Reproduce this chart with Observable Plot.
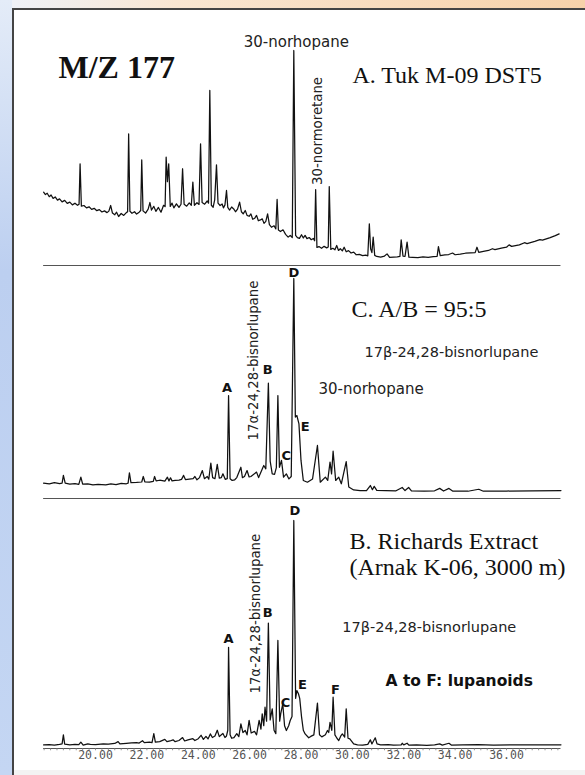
<!DOCTYPE html>
<html><head><meta charset="utf-8">
<script src="https://cdn.jsdelivr.net/npm/d3@7"></script>
<script src="https://cdn.jsdelivr.net/npm/@observablehq/plot@0.6"></script>
<style>
html,body{margin:0;padding:0;background:#fff;}
#page{position:relative;width:585px;height:775px;overflow:hidden;background:linear-gradient(to right,#eef2fa 0%,#f9e6d2 30%,#f7d2aa 100%);}
#leftstrip{position:absolute;left:0;top:0;width:12px;height:775px;background:linear-gradient(to bottom,#e4ecf8 0%,#bccff0 35%,#c4d6f3 100%);}
#panel{position:absolute;left:12px;top:8px;width:580px;height:767px;border-left:2px solid #444;border-top:2px solid #444;background:#f3f3f3;}
#inner{position:absolute;left:0;top:0;right:0;height:760px;background:#fff;}
#charts svg{position:absolute;left:0;top:0;}
</style></head>
<body><div id="page"><div id="leftstrip"></div><div id="panel"><div id="inner"></div></div><div id="charts"></div></div>
<script>
// retention time (min) and relative intensity (baseline rule = 0, tallest peak = 100)
const timesA = [17.98,18.05,18.12,18.20,18.27,18.35,18.43,18.52,18.60,18.70,18.80,18.90,19.00,19.10,19.20,19.30,19.36,19.40,19.45,19.55,19.65,19.75,19.85,19.95,20.05,20.15,20.25,20.35,20.45,20.52,20.59,20.66,20.75,20.82,20.90,21.00,21.10,21.20,21.25,21.29,21.34,21.42,21.52,21.60,21.70,21.76,21.80,21.85,21.95,22.05,22.12,22.18,22.27,22.35,22.45,22.55,22.65,22.71,22.75,22.80,22.85,22.91,22.98,23.05,23.15,23.25,23.33,23.39,23.45,23.55,23.65,23.73,23.79,23.85,23.95,24.03,24.09,24.15,24.25,24.35,24.40,24.45,24.51,24.58,24.64,24.71,24.77,24.85,24.93,24.98,25.04,25.10,25.15,25.22,25.30,25.38,25.45,25.53,25.61,25.68,25.75,25.83,25.90,25.98,26.05,26.12,26.20,26.27,26.34,26.42,26.49,26.56,26.63,26.70,26.77,26.85,26.95,27.02,27.07,27.12,27.20,27.30,27.40,27.50,27.58,27.66,27.72,27.79,27.86,27.94,28.02,28.09,28.16,28.23,28.32,28.40,28.48,28.53,28.57,28.62,28.70,28.80,28.90,29.00,29.06,29.10,29.16,29.24,29.32,29.39,29.46,29.53,29.61,29.68,29.76,29.85,29.95,30.05,30.15,30.27,30.40,30.52,30.60,30.66,30.71,30.76,30.81,30.87,30.95,31.10,31.25,31.35,31.45,31.60,31.75,31.85,31.90,31.97,32.05,32.13,32.20,32.35,32.55,32.75,32.95,33.15,33.30,33.35,33.42,33.60,33.75,33.90,34.00,34.20,34.40,34.60,34.78,34.85,34.92,35.10,35.30,35.45,35.55,35.80,36.00,36.10,36.20,36.50,36.70,36.80,37.10,37.30,37.40,37.70,37.90,38.05];
const intensA = [34.1,33.0,33.6,32.0,32.8,31.2,31.9,30.4,31.0,29.6,30.3,28.9,29.5,28.2,29.0,28.0,28.5,47.3,27.6,27.9,26.8,27.3,26.1,26.6,25.5,26.0,24.9,25.4,24.6,25.3,27.9,24.4,23.6,24.8,22.8,24.2,23.3,24.6,25.0,61.2,25.2,24.3,25.0,23.9,24.8,25.6,49.1,25.4,24.4,26.2,29.3,25.8,27.5,25.2,27.0,24.8,28.0,27.4,50.4,39.0,47.3,27.5,29.0,26.8,28.7,27.0,28.5,45.0,28.5,27.6,29.1,28.0,38.8,28.0,29.2,28.4,56.6,29.3,28.5,30.0,29.0,81.4,28.0,27.1,30.5,46.8,29.0,27.9,28.6,26.8,28.2,34.9,27.0,25.8,27.2,26.3,25.0,26.2,29.5,25.0,24.0,25.6,23.3,22.9,24.0,21.5,22.0,23.3,20.8,21.2,21.7,19.6,20.5,24.0,19.0,17.8,18.5,17.0,30.7,16.5,15.8,16.6,14.5,13.2,14.0,13.0,100,14.0,13.0,12.6,14.3,12.8,14.0,12.5,13.0,12.0,12.6,11.5,35.3,8.4,8.8,8.0,8.9,8.2,8.6,36.7,7.5,8.0,7.3,9.3,7.0,7.8,6.8,8.5,6.4,6.9,5.8,6.2,5.0,5.2,4.6,4.8,4.5,19.4,7.8,6.0,13.2,4.7,4.2,3.9,4.4,5.4,3.8,3.9,4.0,4.2,11.9,4.4,4.3,10.9,3.9,3.8,3.7,4.0,3.8,4.1,4.3,8.8,4.6,4.9,5.1,5.8,5.0,5.3,5.7,5.9,6.0,8.5,6.1,6.6,7.0,7.8,7.4,8.1,8.5,9.6,8.9,9.6,10.6,10.2,11.2,12.0,11.8,13.0,13.9,14.7];

const timesC = [17.98,18.2,18.4,18.6,18.70,18.75,18.82,19.0,19.2,19.35,19.43,19.5,19.7,19.9,20.1,20.4,20.6,20.8,21.0,21.2,21.27,21.32,21.38,21.6,21.8,21.86,21.92,22.1,22.25,22.30,22.36,22.5,22.70,22.80,22.86,22.92,22.98,23.1,23.25,23.35,23.43,23.50,23.65,23.80,23.87,23.95,24.05,24.16,24.24,24.35,24.41,24.49,24.56,24.65,24.74,24.82,24.90,24.96,25.05,25.13,25.18,25.24,25.32,25.42,25.50,25.66,25.72,25.80,25.90,25.98,26.05,26.27,26.35,26.55,26.63,26.73,26.80,26.88,26.97,27.04,27.10,27.16,27.24,27.32,27.43,27.53,27.62,27.72,27.78,27.84,27.92,28.00,28.09,28.25,28.45,28.64,28.75,28.95,29.04,29.13,29.19,29.25,29.35,29.47,29.57,29.76,29.86,30.05,30.3,30.55,30.70,30.78,30.85,30.95,31.3,31.7,31.94,32.05,32.19,32.3,32.8,33.20,33.40,33.55,33.76,33.9,34.5,34.92,35.1,36.0,37.0,38.12];
const intensC = [7.0,6.6,7.2,6.8,7.0,10.5,7.0,6.5,6.8,6.4,9.7,6.5,6.6,6.2,6.4,6.2,6.6,6.3,6.9,6.7,7.0,11.7,7.2,7.3,7.5,10.0,7.6,7.4,7.8,10.0,8.0,8.3,7.9,9.7,8.0,9.4,8.0,8.2,8.4,8.7,10.5,8.6,8.8,9.0,10.0,8.5,9.5,12.7,9.0,10.0,8.8,16.1,9.5,9.0,15.5,9.3,9.5,11.2,8.7,9.0,46.8,9.0,8.2,8.5,9.5,14.2,9.5,10.0,12.7,9.8,10.0,12.0,9.5,15.0,13.5,52.4,17.0,11.2,11.0,14.0,46.8,14.2,17.3,9.7,11.2,8.9,10.0,100,37.0,37.7,33.9,17.3,8.2,7.4,8.9,24.1,7.4,9.7,8.2,16.5,11.2,21.5,8.2,9.7,6.7,16.8,5.2,3.9,3.6,3.6,5.9,4.0,5.5,3.7,3.6,3.5,5.0,3.6,5.0,3.5,3.4,3.5,4.6,3.4,4.6,3.4,3.3,4.2,3.3,3.4,3.5,3.6];

const timesB = [17.98,18.2,18.4,18.6,18.70,18.75,18.80,19.0,19.2,19.35,19.43,19.52,19.7,19.8,20.0,20.3,20.5,20.75,20.88,20.95,21.2,21.4,21.6,21.7,21.83,21.9,22.1,22.2,22.27,22.33,22.5,22.70,22.78,22.9,23.02,23.1,23.25,23.39,23.47,23.6,23.79,23.87,24.0,24.11,24.2,24.30,24.38,24.47,24.55,24.65,24.74,24.82,24.90,24.96,25.04,25.10,25.15,25.18,25.24,25.30,25.39,25.50,25.58,25.66,25.74,25.83,25.90,25.98,26.06,26.19,26.27,26.37,26.44,26.49,26.55,26.60,26.66,26.73,26.80,26.88,26.95,27.02,27.10,27.17,27.21,27.29,27.36,27.43,27.52,27.58,27.65,27.72,27.79,27.84,27.90,27.95,28.02,28.09,28.16,28.30,28.38,28.50,28.64,28.72,28.81,28.95,29.03,29.08,29.13,29.20,29.25,29.32,29.40,29.47,29.55,29.61,29.70,29.76,29.83,29.90,30.05,30.2,30.4,30.6,30.70,30.76,30.89,30.96,31.1,31.4,31.6,31.9,31.94,32.0,32.13,32.2,32.5,32.9,33.2,33.40,33.5,33.76,33.85,34.3,34.9,35.5,36.2,37.0,38.12];
const intensB = [1.6,1.7,1.5,1.8,2.0,6.0,1.9,1.6,1.8,1.7,2.8,1.5,2.0,1.8,1.7,2.0,1.9,2.2,3.0,2.0,2.3,2.5,2.6,2.4,3.4,2.6,2.8,2.6,6.5,2.8,3.0,4.0,3.0,3.3,3.8,3.0,3.5,4.8,3.3,3.8,4.3,3.5,4.3,5.8,4.0,5.3,4.2,6.4,4.8,5.5,8.0,5.2,6.0,6.6,4.8,5.5,8.0,44.4,6.0,4.5,4.8,6.5,5.2,10.8,7.0,7.9,6.0,12.3,6.8,7.5,6.0,12.3,8.5,15.2,10.0,18.1,12.0,55.0,12.5,17.4,8.0,6.5,47.4,12.0,15.2,19.6,10.0,7.9,10.0,12.3,14.0,100,22.0,25.4,24.0,22.0,14.0,8.0,6.4,4.7,5.3,6.0,19.9,6.0,5.1,6.0,7.9,7.0,11.5,8.0,22.5,6.0,4.5,3.5,5.5,6.4,5.0,17.4,4.5,4.2,2.0,1.6,1.5,1.8,3.8,2.0,4.7,2.0,1.6,1.7,1.5,1.6,2.3,1.6,2.3,1.5,1.6,1.4,1.6,2.0,1.5,2.3,1.5,1.6,1.7,1.5,1.6,1.6,1.6];

const tickValues = [20,22,24,26,28,30,32,34,36];
const tickLabels = ["20.00","22.00","24.00","26.00","28.00","30.00","32.00","34.00","36.00"];
const traceStart = 17.98, traceEnd = 38.12;

const rows = (ts, vs) => ts.map((t, i) => ({t, v: vs[i]}));
const serif = "Liberation Serif, Times New Roman, serif";
const sans = "DejaVu Sans, Verdana, sans-serif";

function panel(yRange, marks) {
  return Plot.plot({
    width: 585, height: 775,
    marginTop: 0, marginBottom: 27, marginLeft: 0, marginRight: 0,
    x: {domain: [20, 36], range: [95, 506], axis: null},
    y: {domain: [0, 100], range: yRange, axis: null},
    style: "position:absolute;left:0;top:0;background:transparent;overflow:visible;",
    marks
  });
}
const trace = (ts, vs) => Plot.line(rows(ts, vs), {x: "t", y: "v", stroke: "#111", strokeWidth: 1.25, strokeLinejoin: "round"});
const baseRule = Plot.ruleY([0], {x1: traceStart, x2: traceEnd, stroke: "#555", strokeWidth: 1.2});
const note = (t, x, y, o = {}) => Plot.text([t], {x: () => x, y: () => y, text: d => d, lineAnchor: "bottom", textAnchor: "start", fill: "#222", fontFamily: sans, fontSize: 14.5, ...o});
const letter = (t, x, y) => note(t, x, y, {textAnchor: "middle", fontWeight: "bold", fontSize: 13, fill: "#111"});
const vnote = (t, x, y) => note(t, x, y, {rotate: -90, lineAnchor: "middle", fontSize: 13.3});

const charts = document.getElementById("charts");

// Panel A
charts.append(panel([265, 50], [
  baseRule,
  trace(timesA, intensA),
  note("M/Z 177", 18.56, 87.4, {fontFamily: serif, fontWeight: "bold", fontSize: 32, fill: "#111"}),
  note("A. Tuk M-09 DST5", 30.0, 84.7, {fontFamily: serif, fontSize: 24, fill: "#111"}),
  note("30-norhopane", 27.82, 101.4, {textAnchor: "middle", fontSize: 15}),
  vnote("30-normoretane", 28.64, 37.5)
]));

// Panel C
charts.append(panel([498, 278], [
  baseRule,
  trace(timesC, intensC),
  note("C. A/B = 95:5", 29.97, 82.7, {fontFamily: serif, fontSize: 24, fill: "#111"}),
  note("17β-24,28-bisnorlupane", 30.47, 64.1),
  note("30-norhopane", 28.68, 47.7, {fontSize: 15}),
  vnote("17α-24,28-bisnorlupane", 26.15, 26.4),
  letter("A", 25.12, 48.2),
  letter("B", 26.70, 56.8),
  letter("C", 27.43, 17.3),
  letter("D", 27.72, 100.5),
  letter("E", 28.16, 30.9)
]));

// Panel B
charts.append(panel([748, 520], [
  baseRule,
  Plot.ruleX(d3.range(18, 38.1, 0.25), {x: d => d, y1: 0, y2: -1.0, stroke: "#777", strokeWidth: 0.8}),
  Plot.text(tickValues, {x: d => d, y: -1.1, text: (d, i) => tickLabels[i], lineAnchor: "top", fontFamily: "DejaVu Sans Mono, monospace", fontSize: 11.5, fill: "#555"}),
  trace(timesB, intensB),
  note("B. Richards Extract", 29.89, 87.7, {fontFamily: serif, fontSize: 24, fill: "#111"}),
  note("(Arnak K-06, 3000 m)", 29.89, 76.3, {fontFamily: serif, fontSize: 24, fill: "#111"}),
  note("17β-24,28-bisnorlupane", 29.61, 50.9),
  note("A to F: lupanoids", 31.29, 27.6, {fontWeight: "bold", fontSize: 15.5, fill: "#111"}),
  vnote("17α-24,28-bisnorlupane", 26.23, 24.1),
  letter("A", 25.18, 46.1),
  letter("B", 26.70, 57.5),
  letter("C", 27.40, 18.0),
  letter("D", 27.76, 102.2),
  letter("E", 28.06, 26.3),
  letter("F", 29.34, 24.1)
]));
</script>
</body></html>
